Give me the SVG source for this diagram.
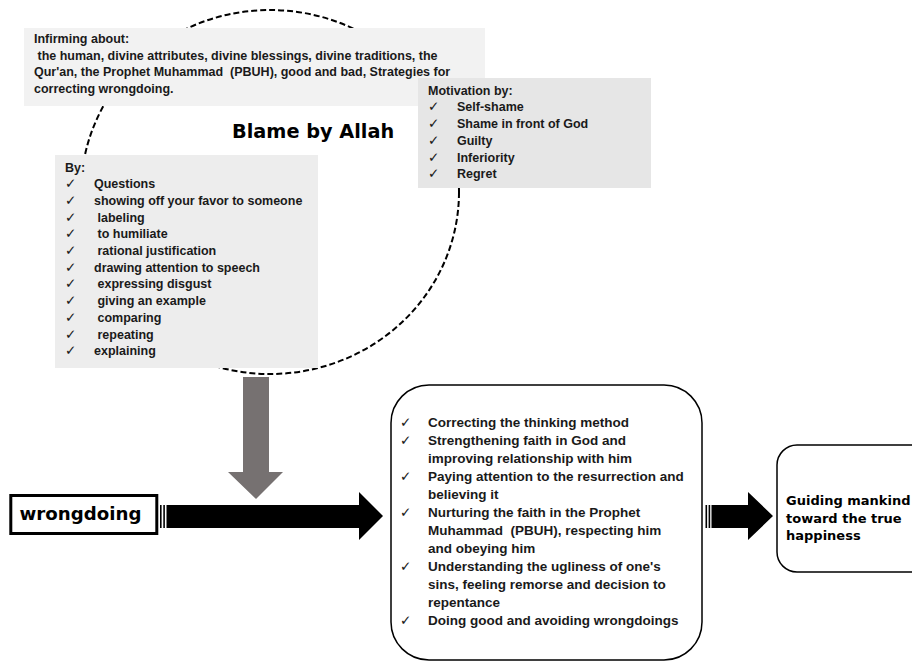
<svg xmlns="http://www.w3.org/2000/svg" width="912" height="662" viewBox="0 0 912 662">
<style>
.t{font-family:"Liberation Sans",Arial,sans-serif;font-weight:bold;font-size:12.5px;fill:#1a1a1a;white-space:pre}
.m{font-size:13.5px}
.ck{font-family:"DejaVu Sans",sans-serif;font-size:13.5px;fill:#1a1a1a}
.big{font-family:"DejaVu Sans",sans-serif;font-weight:bold;fill:#000}
.box{stroke:#000;stroke-width:1.5;fill:#fff}
</style>
<rect width="912" height="662" fill="#fff"/>
<g id="blame">
<ellipse cx="270" cy="192" rx="189" ry="182" fill="none" stroke="#000" stroke-width="2" stroke-dasharray="6 3"/>
<text class="big" x="232" y="137.5" font-size="19.3">Blame by Allah</text>
</g>
<g id="informing">
<rect x="24" y="28" width="461" height="78" fill="#f2f2f2"/>
<text class="t" x="34" y="43">Infirming about:</text>
<text class="t" x="34" y="59.5"> the human, divine attributes, divine blessings, divine traditions, the</text>
<text class="t" x="34" y="76">Qur'an, the Prophet Muhammad  (PBUH), good and bad, Strategies for</text>
<text class="t" x="34" y="92.5">correcting wrongdoing.</text>
</g>
<g id="motivation">
<rect x="418" y="78" width="233" height="110" fill="#e6e6e6"/>
<text class="t" x="428" y="94.5">Motivation by:</text>
<g class="ck"><text x="428" y="111">✓</text><text x="428" y="128">✓</text><text x="428" y="144.5">✓</text><text x="428" y="161.5">✓</text><text x="428" y="178">✓</text></g>
<text class="t" x="457" y="111">Self‑shame</text>
<text class="t" x="457" y="128">Shame in front of God</text>
<text class="t" x="457" y="144.5">Guilty</text>
<text class="t" x="457" y="161.5">Inferiority</text>
<text class="t" x="457" y="178">Regret</text>
</g>
<g id="by">
<rect x="55" y="155" width="263" height="213" fill="#ededed"/>
<text class="t" x="65" y="171.5">By:</text>
<g class="ck"><text x="65" y="188.2">✓</text><text x="65" y="204.9">✓</text><text x="65" y="221.6">✓</text><text x="65" y="238.3">✓</text><text x="65" y="255">✓</text><text x="65" y="271.7">✓</text><text x="65" y="288.4">✓</text><text x="65" y="305.1">✓</text><text x="65" y="321.8">✓</text><text x="65" y="338.5">✓</text><text x="65" y="355.2">✓</text></g>
<text class="t" x="94" y="188.2">Questions</text>
<text class="t" x="94" y="204.9">showing off your favor to someone</text>
<text class="t" x="94" y="221.6"> labeling</text>
<text class="t" x="94" y="238.3"> to humiliate</text>
<text class="t" x="94" y="255"> rational justification</text>
<text class="t" x="94" y="271.7">drawing attention to speech</text>
<text class="t" x="94" y="288.4"> expressing disgust</text>
<text class="t" x="94" y="305.1"> giving an example</text>
<text class="t" x="94" y="321.8"> comparing</text>
<text class="t" x="94" y="338.5"> repeating</text>
<text class="t" x="94" y="355.2">explaining</text>
</g>
<g id="connectors">
<polygon points="243,377 269,377 269,472 283,472 256,499 228,472 243,472" fill="#767171"/>
<rect x="160" y="505" width="1.6" height="23" fill="#000"/>
<rect x="163.3" y="505" width="1.6" height="23" fill="#000"/>
<polygon points="166.5,505 359,505 359,492 383,516 359,540 359,528 166.5,528" fill="#000"/>
<rect x="705.5" y="505" width="1.6" height="23" fill="#000"/>
<rect x="708.6" y="505" width="1.6" height="23" fill="#000"/>
<polygon points="711.5,505 748,505 748,492 773,516 748,540 748,528 711.5,528" fill="#000"/>
</g>
<g id="wrongdoing">
<rect x="10.8" y="495.5" width="146" height="38" fill="#fff" stroke="#000" stroke-width="3"/>
<text class="big" x="19.5" y="519.5" font-size="18.2">wrongdoing</text>
</g>
<g id="outcomes">
<rect class="box" x="391" y="385" width="311" height="275" rx="38"/>
<g class="ck"><text x="400" y="427">✓</text><text x="400" y="445">✓</text><text x="400" y="481">✓</text><text x="400" y="517">✓</text><text x="400" y="571">✓</text><text x="400" y="625">✓</text></g>
<text class="t m" x="428" y="427">Correcting the thinking method</text>
<text class="t m" x="428" y="445">Strengthening faith in God and</text>
<text class="t m" x="428" y="463">improving relationship with him</text>
<text class="t m" x="428" y="481">Paying attention to the resurrection and</text>
<text class="t m" x="428" y="499">believing it</text>
<text class="t m" x="428" y="517">Nurturing the faith in the Prophet</text>
<text class="t m" x="428" y="535">Muhammad  (PBUH), respecting him</text>
<text class="t m" x="428" y="553">and obeying him</text>
<text class="t m" x="428" y="571">Understanding the ugliness of one's</text>
<text class="t m" x="428" y="589">sins, feeling remorse and decision to</text>
<text class="t m" x="428" y="607">repentance</text>
<text class="t m" x="428" y="625">Doing good and avoiding wrongdoings</text>
</g>
<g id="goal">
<rect class="box" x="777" y="445" width="170" height="127" rx="20"/>
<text class="big" x="786" y="505" font-size="13">Guiding mankind</text>
<text class="big" x="786" y="522.5" font-size="13">toward the true</text>
<text class="big" x="786" y="540" font-size="13">happiness</text>
</g>
</svg>
